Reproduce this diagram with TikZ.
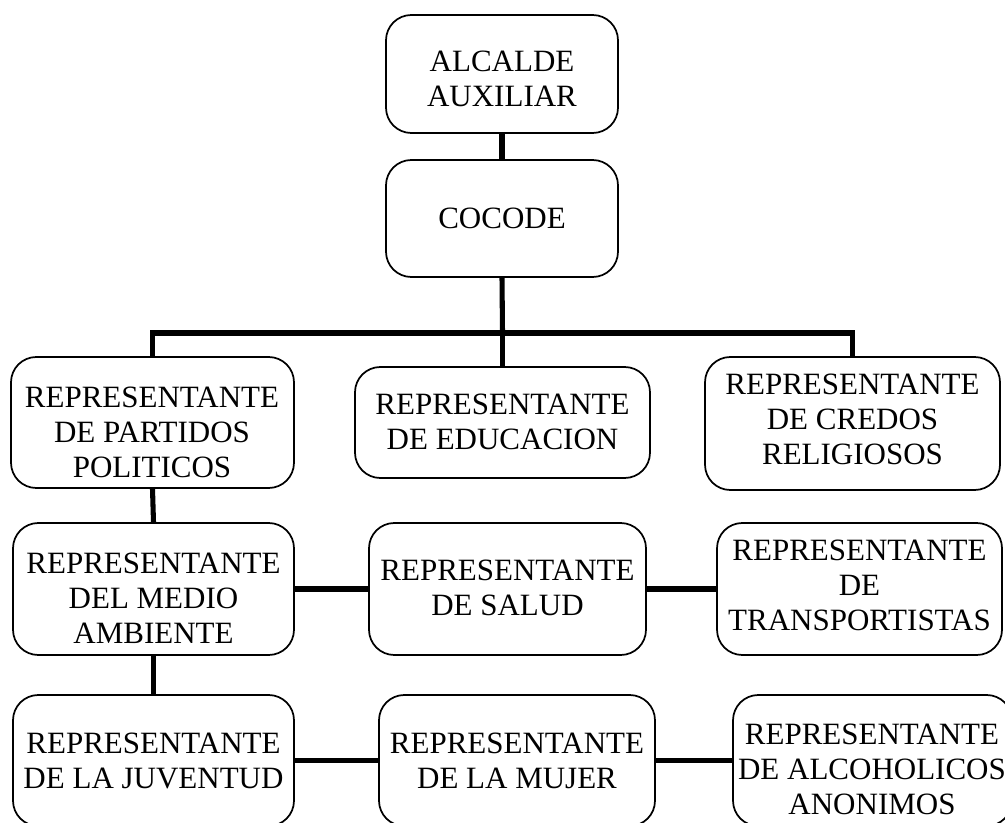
\documentclass[tikz,border=0pt]{standalone}
\usepackage{fontspec}
\setmainfont{Liberation Serif}
\begin{document}
\begin{tikzpicture}[x=0.75pt,y=-0.75pt,
  box/.style={draw, rounded corners=19pt, line width=1.3pt, inner sep=0pt},
  txt/.style={align=center, font=\fontsize{23.25pt}{26.25pt}\selectfont, inner sep=0pt},
  conn/.style={line width=3.8pt}]
\path[use as bounding box, fill=white] (0,0) rectangle (1005,823);
% boxes
\node[box, minimum width={232*0.75pt}, minimum height={118*0.75pt}] (alcalde) at (502,74) {};
\node[box, minimum width={232*0.75pt}, minimum height={117*0.75pt}] (cocode) at (502,218.5) {};
\node[box, minimum width={283*0.75pt}, minimum height={131*0.75pt}] (partidos) at (152.5,422.5) {};
\node[box, minimum width={295*0.75pt}, minimum height={111*0.75pt}] (educ) at (502.5,422.5) {};
\node[box, minimum width={295*0.75pt}, minimum height={133*0.75pt}] (credos) at (852.5,423.5) {};
\node[box, minimum width={281*0.75pt}, minimum height={132*0.75pt}] (medio) at (153.5,589) {};
\node[box, minimum width={277*0.75pt}, minimum height={132*0.75pt}] (salud) at (507.5,589) {};
\node[box, minimum width={285*0.75pt}, minimum height={132*0.75pt}] (transp) at (859.5,589) {};
\node[box, minimum width={281*0.75pt}, minimum height={131*0.75pt}] (juventud) at (153.5,760.5) {};
\node[box, minimum width={276*0.75pt}, minimum height={131*0.75pt}] (mujer) at (517,760.5) {};
\node[box, minimum width={279*0.75pt}, minimum height={131*0.75pt}] (alcoh) at (872.5,760.5) {};
% texts
\node[txt] (t-alcalde) at (502,79) {ALCALDE\\AUXILIAR};
\node[txt] (t-cocode) at (502,218) {COCODE};
\node[txt] (t-partidos) at (152,432) {REPRESENTANTE\\DE PARTIDOS\\POLITICOS};
\node[txt] (t-educ) at (502.5,422) {REPRESENTANTE\\DE EDUCACION};
\node[txt] (t-credos) at (852.5,419) {REPRESENTANTE\\DE CREDOS\\RELIGIOSOS};
\node[txt] (t-medio) at (153.5,598) {REPRESENTANTE\\DEL MEDIO\\AMBIENTE};
\node[txt] (t-salud) at (507.5,588) {REPRESENTANTE\\DE SALUD};
\node[txt] (t-transp) at (859.5,585) {REPRESENTANTE\\DE\\TRANSPORTISTAS};
\node[txt] (t-juventud) at (153.5,761) {REPRESENTANTE\\DE LA JUVENTUD};
\node[txt] (t-mujer) at (517,761) {REPRESENTANTE\\DE LA MUJER};
\node[txt] (t-alcoh) at (872,769) {REPRESENTANTE\\DE ALCOHOLICOS\\ANONIMOS};
% connectors
\coordinate (bus) at (502.5,333);
\draw[conn] (alcalde.south) -- (cocode.north);
\draw[conn] (cocode.south) -- (bus);
\draw[conn] (partidos.north) |- (bus) -| (credos.north);
\draw[conn] (bus) -- (educ.north);
\draw[conn] (partidos.south) -- (medio.north);
\draw[conn] (medio.south) -- (juventud.north);
\draw[conn] (medio.east) -- (salud.west);
\draw[conn] (salud.east) -- (transp.west);
\draw[conn] (juventud.east) -- (mujer.west);
\draw[conn] (mujer.east) -- (alcoh.west);
\end{tikzpicture}
\end{document}
